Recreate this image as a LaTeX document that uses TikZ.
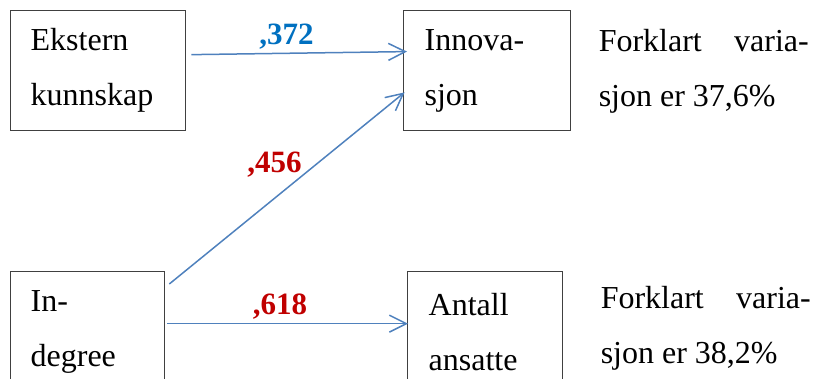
\documentclass[tikz,border=0pt]{standalone}
\usepackage{fontspec}
\setmainfont{Liberation Serif}
\usepackage{xcolor}
\usetikzlibrary{arrows.meta}

\definecolor{pathblue}{HTML}{4F81BD}
\definecolor{coefblue}{HTML}{0070C0}
\definecolor{coefred}{HTML}{C00000}
\definecolor{boxgray}{HTML}{404040}

\tikzset{
 var/.style={draw=boxgray,line width=1.3pt,anchor=north west,align=left,
  inner xsep=20pt,minimum height=120pt,font=\fontsize{32}{55}\selectfont},
 note/.style={anchor=west,inner sep=0pt,text width=210pt,align=justify,
  font=\fontsize{32}{55}\selectfont},
 coef/.style={font=\fontsize{31}{36}\selectfont\bfseries}
}

\begin{document}
\begin{tikzpicture}[x=1pt,y=-1pt,>={Straight Barb[length=17pt,width=17pt]},
 line width=1.5pt]
 \useasboundingbox (0,0) rectangle (833,379);
 \clip (0,0) rectangle (833,379);
 \node[var,text width=135pt] (ekstern) at (10,10) {Ekstern\\kunnskap};
 \node[var,text width=125pt,inner xsep=21pt] (innov) at (403,10) {Innova-\\sjon};
 \node[var,text width=114pt] (indeg) at (10,271) {In-\\degree};
 \node[var,text width=113pt,inner xsep=21pt] (ansatte) at (407,271) {Antall\\ansatte};
 \node[note] (forkl1) at (598,71) {Forklart\hfill varia-\\sjon er 37,6\%};
 \node[note] (forkl2) at (600,328) {Forklart\hfill varia-\\sjon er 38,2\%};
 \path[->,pathblue]
 ([xshift=5pt,yshift=16pt]ekstern.east)
 edge [shorten >=-4pt] node[coef,coefblue,above,pos=.45] {,372} ([yshift=19pt]innov.west)
 ([xshift=4pt,yshift=-13pt]indeg.north east)
 edge [shorten >=-2pt] node[coef,coefred,above=17pt,pos=.45] {,456} ([yshift=-23pt]innov.west)
 ([xshift=2pt,yshift=8pt]indeg.east)
 edge [shorten >=-1pt] node[coef,coefred,above,pos=.47] {,618} ([yshift=8pt]ansatte.west);
\end{tikzpicture}
\end{document}
